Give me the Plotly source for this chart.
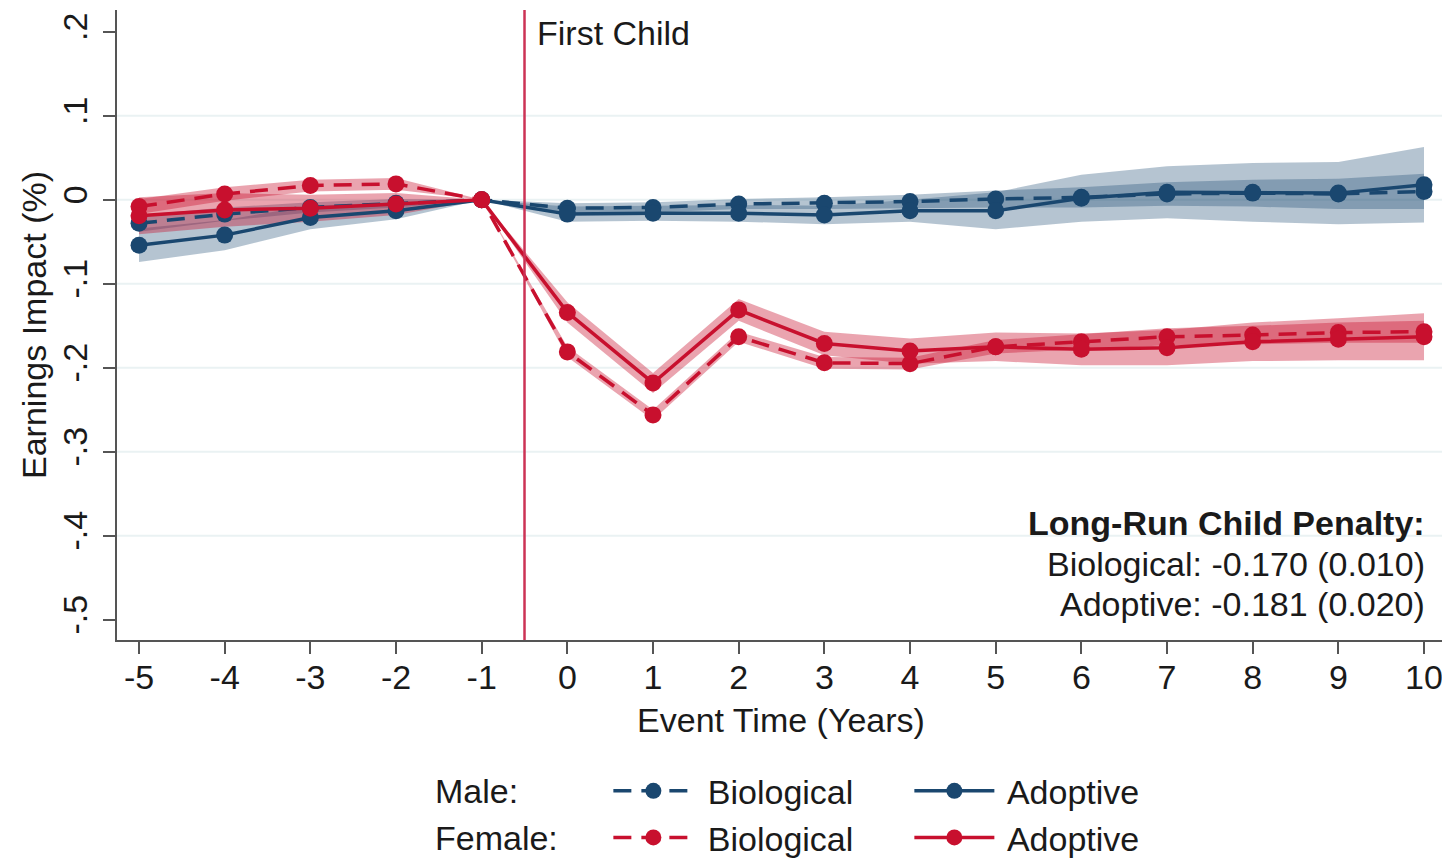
import plotly.graph_objects as go

# ---------------- data ----------------
event_time = [-5, -4, -3, -2, -1, 0, 1, 2, 3, 4, 5, 6, 7, 8, 9, 10]
x_tick_text = ["-5", "-4", "-3", "-2", "-1", "0", "1", "2", "3", "4", "5", "6", "7", "8", "9", "10"]

male_bio = [-0.028, -0.017, -0.009, -0.004, 0.0, -0.010, -0.009, -0.005, -0.004, -0.002, 0.001, 0.003, 0.007, 0.008, 0.007, 0.010]
male_adopt = [-0.054, -0.042, -0.021, -0.013, 0.0, -0.017, -0.016, -0.016, -0.018, -0.013, -0.013, 0.002, 0.009, 0.009, 0.008, 0.018]
female_bio = [-0.008, 0.007, 0.017, 0.019, 0.0, -0.181, -0.256, -0.163, -0.194, -0.195, -0.175, -0.169, -0.163, -0.161, -0.158, -0.157]
female_adopt = [-0.019, -0.012, -0.010, -0.005, 0.0, -0.134, -0.218, -0.131, -0.171, -0.180, -0.175, -0.178, -0.176, -0.169, -0.166, -0.163]

male_bio_ci = [0.010, 0.008, 0.006, 0.005, 0.0, 0.006, 0.006, 0.006, 0.007, 0.008, 0.010, 0.012, 0.014, 0.016, 0.018, 0.021]
male_adopt_ci = [0.020, 0.018, 0.014, 0.010, 0.0, 0.009, 0.009, 0.010, 0.011, 0.013, 0.022, 0.028, 0.031, 0.035, 0.037, 0.045]
female_bio_ci = [0.009, 0.008, 0.007, 0.007, 0.0, 0.006, 0.006, 0.006, 0.007, 0.007, 0.008, 0.009, 0.010, 0.011, 0.012, 0.013]
female_adopt_ci = [0.022, 0.020, 0.016, 0.013, 0.0, 0.012, 0.012, 0.013, 0.014, 0.015, 0.017, 0.019, 0.021, 0.023, 0.025, 0.028]

y_tick_vals = [0.2, 0.1, 0.0, -0.1, -0.2, -0.3, -0.4, -0.5]
y_tick_text = [".2", ".1", "0", "-.1", "-.2", "-.3", "-.4", "-.5"]
grid_vals = [0.1, 0.0, -0.1, -0.2, -0.3, -0.4]

first_child_x = -0.5
event_label = "First Child"
penalty_title = "Long-Run Child Penalty:"
penalty_lines = ["Biological: -0.170 (0.010)", "Adoptive: -0.181 (0.020)"]
row_labels = ["Male:", "Female:"]

# ---------------- styles ----------------
BLUE = "#1a476f"
RED = "#c8102e"
BLUE_BAND = "rgba(26,71,111,0.32)"
RED_BAND = "rgba(200,16,46,0.38)"
FONT = "Liberation Sans, Arial, sans-serif"
TXT = "#1a1a1a"
FS = 34

# page body has an 8px default margin; size the figure to fit the 1450x858 window
W, H = 1442, 850

fig = go.Figure()


def band(y, ci, color):
    upper = [a + b for a, b in zip(y, ci)]
    lower = [a - b for a, b in zip(y, ci)]
    fig.add_trace(go.Scatter(x=event_time + event_time[::-1], y=upper + lower[::-1],
                             fill="toself", fillcolor=color, line=dict(width=0),
                             mode="lines", hoverinfo="skip", showlegend=False))


band(male_adopt, male_adopt_ci, BLUE_BAND)
band(male_bio, male_bio_ci, BLUE_BAND)
band(female_adopt, female_adopt_ci, RED_BAND)
band(female_bio, female_bio_ci, RED_BAND)

DASH = "18px,10px"


def series(y, color, dash, name, legend):
    fig.add_trace(go.Scatter(x=event_time, y=y, mode="lines+markers", name=" " + name,
                             line=dict(color=color, width=3.5, dash=dash),
                             marker=dict(color=color, size=17),
                             legend=legend))


series(male_bio, BLUE, DASH, "Biological", "legend")
series(male_adopt, BLUE, "solid", "Adoptive", "legend")
series(female_bio, RED, DASH, "Biological", "legend2")
series(female_adopt, RED, "solid", "Adoptive", "legend2")

# vertical event line
fig.add_shape(type="line", xref="x", yref="paper", x0=first_child_x, x1=first_child_x,
              y0=0, y1=1, line=dict(color="#cc3355", width=2.5))

fig.add_annotation(x=first_child_x, y=1, xref="x", yref="paper", text=event_label,
                   showarrow=False, xanchor="left", yanchor="top", xshift=10, yshift=-2,
                   font=dict(family=FONT, size=FS, color=TXT))

# penalty box
fig.add_annotation(x=1, y=-0.385, xref="paper", yref="y", text="<b>" + penalty_title + "</b>",
                   showarrow=False, xanchor="right", yanchor="middle", xshift=-18,
                   font=dict(family=FONT, size=FS, color=TXT))
for line_txt, yv in zip(penalty_lines, [-0.433, -0.481]):
    fig.add_annotation(x=1, y=yv, xref="paper", yref="y", text=line_txt,
                       showarrow=False, xanchor="right", yanchor="middle", xshift=-18,
                       font=dict(family=FONT, size=FS, color=TXT))

# legend row labels
for lab, yp in zip(row_labels, [-0.240, -0.314]):
    fig.add_annotation(x=(436 - 117) / 1328, y=yp, xref="paper", yref="paper", text=lab,
                       showarrow=False, xanchor="left", yanchor="middle", xshift=-3,
                       font=dict(family=FONT, size=FS, color=TXT))

legend_common = dict(orientation="h", xanchor="left", yanchor="middle",
                     font=dict(family=FONT, size=FS, color=TXT),
                     bgcolor="rgba(0,0,0,0)", itemwidth=80,
                     entrywidth=206, entrywidthmode="pixels", tracegroupgap=0)

fig.update_layout(
    width=W, height=H,
    margin=dict(l=109, r=5, t=2, b=218, autoexpand=False),
    paper_bgcolor="white", plot_bgcolor="white",
    font=dict(family=FONT, size=FS, color=TXT),
    showlegend=True,
    legend=dict(x=0.37, y=-0.240, **legend_common),
    legend2=dict(x=0.37, y=-0.314, **legend_common),
    xaxis=dict(range=[-5.257, 10.245], tickvals=event_time, ticktext=x_tick_text,
               ticks="outside", ticklen=12, automargin=False,
               tickwidth=2, tickcolor="#555", showline=True, linecolor="#555", linewidth=2,
               showgrid=False, zeroline=False, ticklabelstandoff=-6,
               tickfont=dict(family=FONT, size=FS, color=TXT),
               title=dict(text="Event Time (Years)", font=dict(family=FONT, size=FS, color=TXT),
                          standoff=13)),
    yaxis=dict(range=[-0.524, 0.226], tickvals=y_tick_vals, ticktext=y_tick_text,
               tickangle=-90, ticks="outside", ticklen=12, tickwidth=2, tickcolor="#555",
               showline=True, linecolor="#555", linewidth=2, showgrid=False, zeroline=False,
               automargin=False, ticklabelstandoff=2,
               tickfont=dict(family=FONT, size=FS, color=TXT),
               title=dict(text="Earnings Impact (%)", font=dict(family=FONT, size=FS, color=TXT),
                          standoff=0)),
)

for g in grid_vals:
    fig.add_shape(type="line", xref="paper", yref="y", x0=0, x1=1, y0=g, y1=g,
                  line=dict(color="#eaf2f3", width=2), layer="below")

fig.write_html("out.html")
